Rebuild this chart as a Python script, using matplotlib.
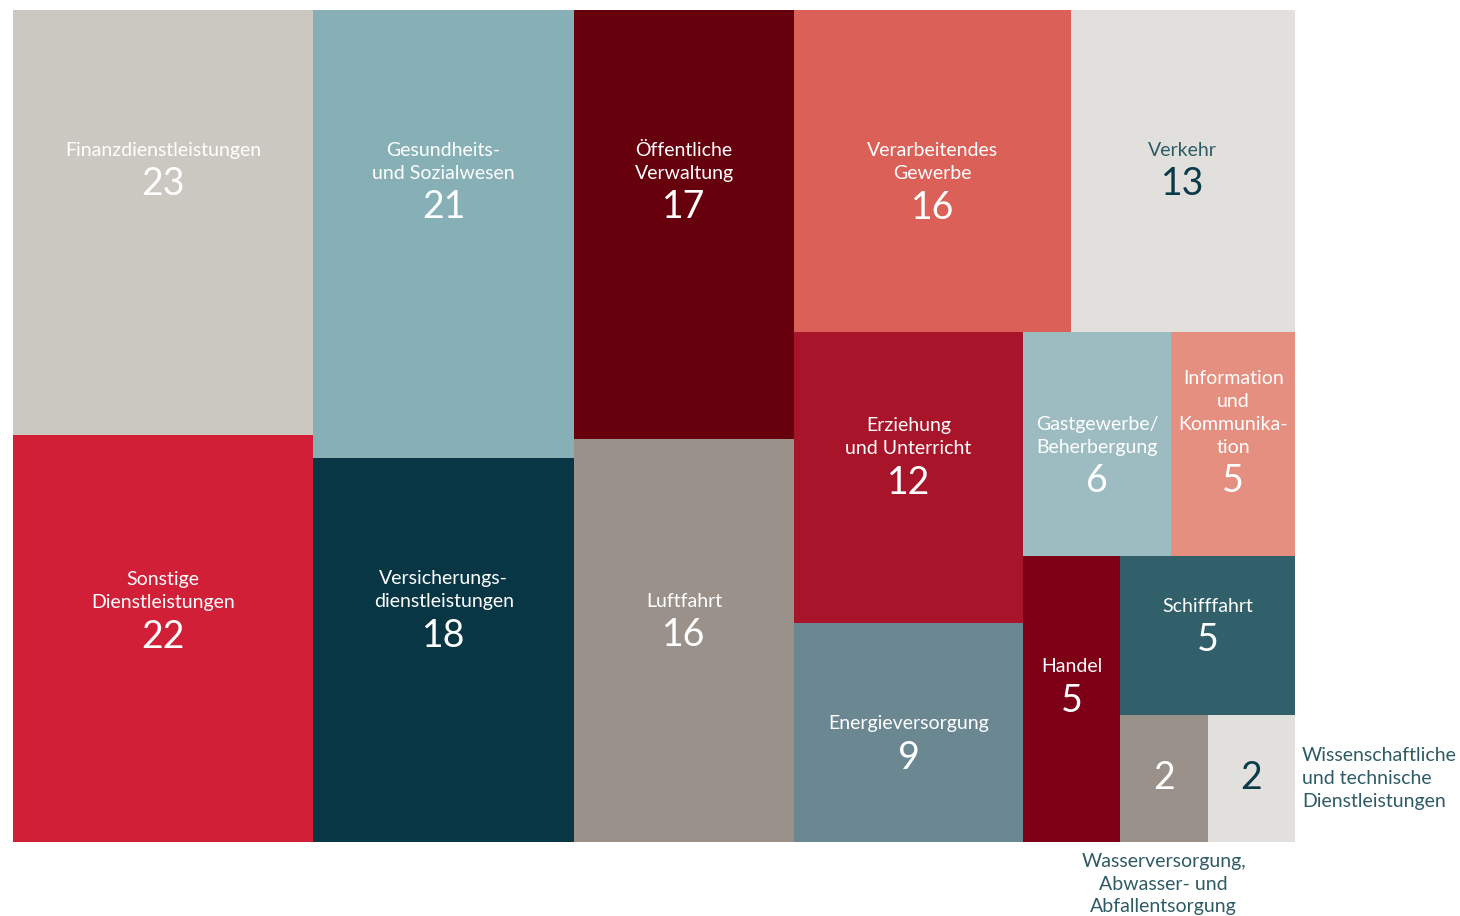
import matplotlib.pyplot as plt
from matplotlib.patches import Rectangle

plt.rcParams["font.family"] = ["Lato", "DejaVu Sans"]

labels = [
    "Finanzdienstleistungen", "Sonstige\nDienstleistungen",
    "Gesundheits-\nund Sozialwesen", "Versicherungs-\ndienstleistungen",
    "Öffentliche\nVerwaltung", "Luftfahrt",
    "Verarbeitendes\nGewerbe", "Verkehr",
    "Erziehung\nund Unterricht", "Energieversorgung",
    "Gastgewerbe/\nBeherbergung", "Information\nund\nKommunika-\ntion",
    "Handel", "Schifffahrt",
    "Wasserversorgung,\nAbwasser- und\nAbfallentsorgung",
    "Wissenschaftliche\nund technische\nDienstleistungen",
]
values = [23, 22, 21, 18, 17, 16, 16, 13, 12, 9, 6, 5, 5, 5, 2, 2]
colors = [
    "#CBC7C1", "#D01F37", "#86B0B5", "#083645", "#65000C", "#9A918B",
    "#DB6158", "#E2E0DC", "#A8142A", "#6B8892", "#9DBCC1", "#E48F80",
    "#7D0016", "#31606A", "#9A918B", "#E2E0DC",
]
dark_text = [7, 15]
outside = [14, 15]

# h = side by side, v = stacked
tree = ("h", [
    ("v", [0, 1]), ("v", [2, 3]), ("v", [4, 5]),
    ("v", [
        ("h", [6, 7]),
        ("h", [
            ("v", [8, 9]),
            ("v", [
                ("h", [10, 11]),
                ("h", [12, ("v", [13, ("h", [14, 15])])]),
            ]),
        ]),
    ]),
])

# vertical position of the number inside its tile (fraction of tile height)
num_pos = [0.41, 0.495, 0.44, 0.463, 0.46, 0.488, 0.614, 0.542,
           0.518, 0.615, 0.665, 0.665, 0.505, 0.53, 0.5, 0.5]


def total(node):
    if isinstance(node, int):
        return values[node]
    return sum(total(c) for c in node[1])


def layout(node, x, y, w, h, out):
    if isinstance(node, int):
        out[node] = (x, y, w, h)
        return
    kind, kids = node
    s = total(node)
    for c in kids:
        f = total(c) / s
        if kind == "h":
            layout(c, x, y, w * f, h, out)
            x += w * f
        else:
            layout(c, x, y, w, h * f, out)
            y += h * f


rects = {}
layout(tree, 13, 10, 1282, 832, rects)

fig = plt.figure(figsize=(14.6, 9.16), dpi=100)
ax = fig.add_axes([0, 0, 1, 1])
ax.set_xlim(0, 1460)
ax.set_ylim(916, 0)
ax.axis("off")

teal = "#2F5B66"
for i in range(len(values)):
    x, y, w, h = rects[i]
    ax.add_patch(Rectangle((x, y), w, h, facecolor=colors[i], edgecolor="none"))
    cx = x + w / 2
    ny = y + h * num_pos[i]
    ax.text(cx, ny, str(values[i]), ha="center", va="center", fontsize=27,
            color="#0B3B4A" if i in dark_text else "white")
    if i in outside:
        continue
    lines = labels[i].split("\n")
    for k, line in enumerate(reversed(lines)):
        ax.text(cx, ny - 34 - 23 * k, line, ha="center", va="center",
                fontsize=14, color=teal if i in dark_text else "white")

# labels outside the small tiles
x, y, w, h = rects[15]
ax.text(x + w + 7, y + h * 0.5, labels[15], ha="left", va="center",
        fontsize=14, color=teal, linespacing=1.4)
x, y, w, h = rects[14]
ax.text(x + w / 2, 884, labels[14], ha="center", va="center",
        fontsize=14, color=teal, linespacing=1.4)

fig.savefig("out.png", dpi=100)
